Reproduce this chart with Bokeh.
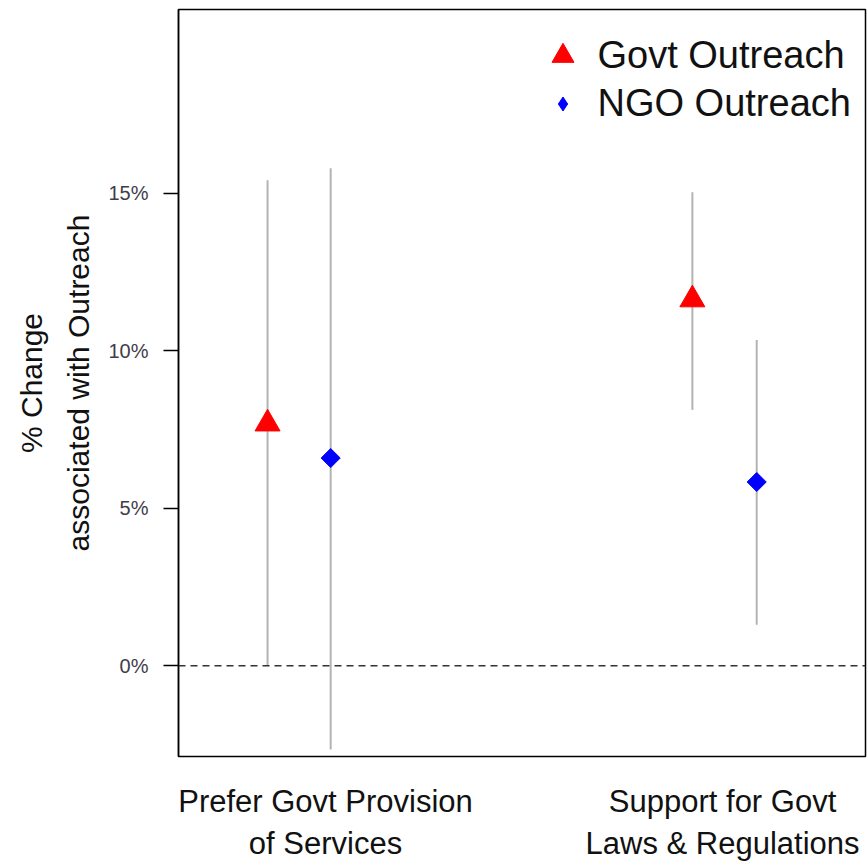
import numpy as np
from bokeh.plotting import figure
from bokeh.models import (ColumnDataSource, Span, Title, Legend, LegendItem,
                          FixedTicker, Range1d)
from bokeh.embed import file_html
from bokeh.resources import INLINE

# Outcome categories (x positions 1 and 2) and tick labels
categories = ["Prefer Govt Provision\nof Services", "Support for Govt\nLaws & Regulations"]
category_pos = [1, 2]

# Estimated effect of outreach (% change) with confidence interval bounds
govt_x = [0.854, 1.924]
govt_est = [7.68, 11.62]
govt_lo = [0.0, 8.12]
govt_hi = [15.41, 15.03]

ngo_x = [1.013, 2.086]
ngo_est = [6.59, 5.83]
ngo_lo = [-2.66, 1.30]
ngo_hi = [15.79, 10.34]

y_ticks = [0, 5, 10, 15]
y_tick_labels = ["0%", "5%", "10%", "15%"]

FONT = "Liberation Sans"

p = figure(width=868, height=863, output_backend="svg", toolbar_location=None,
           x_range=Range1d(0.6297, 2.360), y_range=Range1d(-2.885, 20.83),
           min_border_left=178, min_border_right=3, min_border_top=9,
           min_border_bottom=106)
p.background_fill_color = "white"
p.border_fill_color = "white"
p.outline_line_color = "black"
p.outline_line_width = 1.5
p.xgrid.visible = False
p.ygrid.visible = False

# zero reference line
p.add_layout(Span(location=0, dimension="width", line_color="#333333",
                  line_width=1.5, line_dash="7 5"))

govt_src = ColumnDataSource(dict(x=govt_x, y=govt_est, lo=govt_lo, hi=govt_hi))
ngo_src = ColumnDataSource(dict(x=ngo_x, y=ngo_est, lo=ngo_lo, hi=ngo_hi))

# confidence intervals
for src in (govt_src, ngo_src):
    p.segment(x0="x", y0="lo", x1="x", y1="hi", source=src,
              line_color="#b3b3b3", line_width=2)

r_govt = p.scatter("x", "y", source=govt_src, marker="triangle", size=25,
                   fill_color="#ff0000", line_color="#ff0000")
p.scatter("x", "y", source=ngo_src, marker="square", size=13.5, angle=np.pi / 4,
          fill_color="#0000ff", line_color="#0000ff")

# legend key for the NGO series (NaN position: shown only in the legend)
r_ngo_key = p.scatter(x=[np.nan], y=[np.nan], marker="diamond", size=10,
                      fill_color="#0000ff", line_color="#0000ff")

legend_common = dict(padding=0, margin=0, border_line_color=None,
                     background_fill_alpha=0, label_text_font=FONT,
                     label_text_font_size="38px", label_text_color="#111111")
leg1 = Legend(items=[LegendItem(label="Govt Outreach", renderers=[r_govt])],
              location=(356.5, 673.5), glyph_width=55, glyph_height=55,
              label_standoff=8, **legend_common)
leg2 = Legend(items=[LegendItem(label="NGO Outreach", renderers=[r_ngo_key])],
              location=(366.5, 631.5), glyph_width=35, glyph_height=35,
              label_standoff=18, **legend_common)
p.add_layout(leg1)
p.add_layout(leg2)

# y axis
p.yaxis.ticker = FixedTicker(ticks=y_ticks)
p.yaxis.major_label_overrides = {t: l for t, l in zip(y_ticks, y_tick_labels)}
p.yaxis.minor_tick_line_color = None
p.yaxis.major_tick_out = 15
p.yaxis.major_tick_in = 0
p.yaxis.major_tick_line_width = 1.5
p.yaxis.axis_line_width = 1.5
p.yaxis.major_label_standoff = 15
p.yaxis.major_label_text_font = FONT
p.yaxis.major_label_text_font_size = "20px"
p.yaxis.major_label_text_color = "#3f3d4a"

# x axis: category labels only
p.xaxis.ticker = FixedTicker(ticks=category_pos)
p.xaxis.major_label_overrides = {c: l for c, l in zip(category_pos, categories)}
p.xaxis.axis_line_color = None
p.xaxis.major_tick_line_color = None
p.xaxis.minor_tick_line_color = None
p.xaxis.major_label_standoff = 21
p.xaxis.major_label_text_font = FONT
p.xaxis.major_label_text_font_size = "31px"
p.xaxis.major_label_text_color = "#111111"

# two-line y-axis title (inner line first)
for txt, gap in [("associated with Outreach", 21), ("% Change", 4)]:
    p.add_layout(Title(text=txt, align="center", text_font=FONT,
                       text_font_size="30px", text_font_style="normal",
                       text_color="#111111", standoff=gap), "left")

open("out.html", "w").write(file_html(p, INLINE))
